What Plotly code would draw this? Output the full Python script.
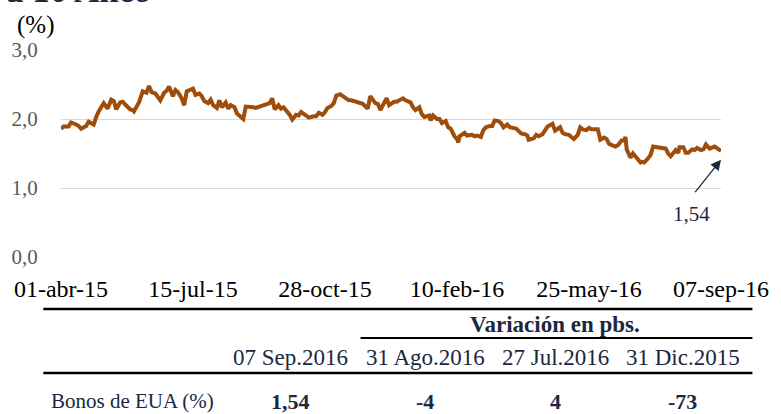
import plotly.graph_objects as go

# Rendimiento del bono del Tesoro de EUA a 10 años (%)
dates = [
    "2015-04-01", "2015-04-03", "2015-04-07", "2015-04-09", "2015-04-13", "2015-04-15", "2015-04-17",
    "2015-04-21", "2015-04-23", "2015-04-27", "2015-04-29", "2015-05-01", "2015-05-05", "2015-05-07",
    "2015-05-08", "2015-05-11", "2015-05-13", "2015-05-15", "2015-05-18", "2015-05-20", "2015-05-22",
    "2015-05-26", "2015-05-28", "2015-05-29", "2015-06-02", "2015-06-04", "2015-06-05", "2015-06-08",
    "2015-06-10", "2015-06-12", "2015-06-15", "2015-06-17", "2015-06-19", "2015-06-22", "2015-06-24",
    "2015-06-26", "2015-06-29", "2015-07-01", "2015-07-03", "2015-07-06", "2015-07-08", "2015-07-10",
    "2015-07-13", "2015-07-15", "2015-07-17", "2015-07-20", "2015-07-22", "2015-07-24", "2015-07-27",
    "2015-07-29", "2015-07-31", "2015-08-03", "2015-08-05", "2015-08-07", "2015-08-10", "2015-08-12",
    "2015-08-14", "2015-08-17", "2015-08-19", "2015-08-21", "2015-08-24", "2015-08-26", "2015-08-28",
    "2015-09-01", "2015-09-03", "2015-09-08", "2015-09-11", "2015-09-14", "2015-09-16", "2015-09-18",
    "2015-09-21", "2015-09-23", "2015-09-25", "2015-09-28", "2015-09-30", "2015-10-02", "2015-10-05",
    "2015-10-07", "2015-10-09", "2015-10-13", "2015-10-15", "2015-10-19", "2015-10-21", "2015-10-23",
    "2015-10-26", "2015-10-28", "2015-10-30", "2015-11-02", "2015-11-04", "2015-11-06", "2015-11-09",
    "2015-11-12", "2015-11-16", "2015-11-18", "2015-11-20", "2015-11-24", "2015-11-27", "2015-12-01",
    "2015-12-03", "2015-12-07", "2015-12-09", "2015-12-11", "2015-12-14", "2015-12-16", "2015-12-18",
    "2015-12-22", "2015-12-24", "2015-12-29", "2015-12-31",
    "2016-01-04", "2016-01-06", "2016-01-08", "2016-01-11", "2016-01-13", "2016-01-15", "2016-01-19",
    "2016-01-20", "2016-01-22", "2016-01-25", "2016-01-27", "2016-01-29", "2016-02-01", "2016-02-03",
    "2016-02-05", "2016-02-08", "2016-02-10", "2016-02-11", "2016-02-12", "2016-02-16", "2016-02-18",
    "2016-02-22", "2016-02-24", "2016-02-26", "2016-02-29", "2016-03-02", "2016-03-04", "2016-03-07",
    "2016-03-09", "2016-03-11", "2016-03-14", "2016-03-16", "2016-03-18", "2016-03-21", "2016-03-23",
    "2016-03-28", "2016-03-30", "2016-04-01", "2016-04-04", "2016-04-06", "2016-04-07", "2016-04-11",
    "2016-04-13", "2016-04-15", "2016-04-18", "2016-04-20", "2016-04-22", "2016-04-26", "2016-04-28",
    "2016-05-02", "2016-05-04", "2016-05-06", "2016-05-09", "2016-05-11", "2016-05-13", "2016-05-16",
    "2016-05-18", "2016-05-20", "2016-05-23", "2016-05-25", "2016-05-27", "2016-06-01", "2016-06-03",
    "2016-06-06", "2016-06-08", "2016-06-10", "2016-06-13", "2016-06-15", "2016-06-17", "2016-06-20",
    "2016-06-22", "2016-06-23", "2016-06-24", "2016-06-27", "2016-06-29", "2016-07-01", "2016-07-05",
    "2016-07-06", "2016-07-08", "2016-07-11", "2016-07-13", "2016-07-15", "2016-07-18", "2016-07-20",
    "2016-07-22", "2016-07-25", "2016-07-27", "2016-07-29", "2016-08-02", "2016-08-04", "2016-08-05",
    "2016-08-08", "2016-08-10", "2016-08-12", "2016-08-15", "2016-08-17", "2016-08-19", "2016-08-22",
    "2016-08-24", "2016-08-26", "2016-08-29", "2016-08-31", "2016-09-02", "2016-09-06", "2016-09-07",
]
yields = [
    1.86, 1.89, 1.89, 1.95, 1.92, 1.90, 1.86,
    1.90, 1.96, 1.92, 2.03, 2.11, 2.23, 2.18,
    2.15, 2.28, 2.26, 2.14, 2.24, 2.25, 2.21,
    2.14, 2.13, 2.11, 2.24, 2.36, 2.40, 2.38,
    2.48, 2.39, 2.37, 2.32, 2.27, 2.38, 2.41,
    2.47, 2.33, 2.42, 2.39, 2.30, 2.20, 2.40,
    2.43, 2.44, 2.35, 2.37, 2.33, 2.26, 2.23,
    2.28, 2.20, 2.16, 2.27, 2.17, 2.24, 2.15,
    2.20, 2.17, 2.08, 2.05, 2.00, 2.18, 2.18,
    2.17, 2.16, 2.19, 2.20, 2.23, 2.30, 2.14,
    2.20, 2.15, 2.17, 2.10, 2.06, 1.99, 2.06,
    2.05, 2.10, 2.05, 2.02, 2.04, 2.04, 2.09,
    2.06, 2.10, 2.16, 2.19, 2.23, 2.34, 2.36,
    2.32, 2.27, 2.27, 2.26, 2.25, 2.22, 2.15,
    2.33, 2.23, 2.22, 2.13, 2.23, 2.30, 2.20,
    2.25, 2.25, 2.30, 2.27,
    2.24, 2.17, 2.13, 2.17, 2.07, 2.03, 2.05,
    1.98, 2.05, 2.00, 2.00, 1.94, 1.97, 1.88,
    1.86, 1.75, 1.71, 1.66, 1.75, 1.80, 1.76,
    1.77, 1.75, 1.76, 1.74, 1.84, 1.88, 1.90,
    1.90, 1.98, 1.97, 1.94, 1.88, 1.92, 1.88,
    1.86, 1.83, 1.79, 1.78, 1.76, 1.70, 1.72,
    1.77, 1.75, 1.78, 1.85, 1.89, 1.93, 1.83,
    1.88, 1.80, 1.78, 1.77, 1.74, 1.71, 1.77,
    1.88, 1.85, 1.84, 1.87, 1.85, 1.85, 1.70,
    1.73, 1.71, 1.64, 1.62, 1.60, 1.62, 1.69,
    1.69, 1.74, 1.56, 1.44, 1.50, 1.46, 1.37,
    1.38, 1.37, 1.43, 1.48, 1.60, 1.59, 1.58,
    1.57, 1.57, 1.50, 1.46, 1.55, 1.51, 1.59,
    1.59, 1.51, 1.51, 1.56, 1.55, 1.58, 1.55,
    1.56, 1.63, 1.57, 1.58, 1.60, 1.55, 1.54,
]

x_ticks = ["2015-04-01", "2015-07-15", "2015-10-28", "2016-02-10", "2016-05-25", "2016-09-07"]
x_tick_labels = ["01-abr-15", "15-jul-15", "28-oct-15", "10-feb-16", "25-may-16", "07-sep-16"]
y_ticks = [0, 1, 2, 3]
y_tick_labels = ["0,0", "1,0", "2,0", "3,0"]

# tabla inferior
col_headers = ["07 Sep.2016", "31 Ago.2016", "27 Jul.2016", "31 Dic.2015"]
row_label = "Bonos de EUA (%)"
row_values = ["1,54", "-4", "4", "-73"]
last_label = "1,54"

FONT = "Liberation Serif"
NAVY = "#1c2740"
LINE_COLOR = "#9e4d0b"

# plot area in pixels, used to place the paper-coord items
W, H = 781, 414
L, R, T, B = 58, 51, 50, 157
pw, ph = W - L - R, H - T - B


def px(xp):
    return (xp - L) / pw


def py(yp):
    return (H - B - yp) / ph


def text_at(x, y, text, size, color=NAVY, xanchor="center", yanchor="middle"):
    fig.add_annotation(
        x=px(x), y=py(y), xref="paper", yref="paper", text=text,
        xanchor=xanchor, yanchor=yanchor, showarrow=False,
        font=dict(family=FONT, size=size, color=color),
    )


fig = go.Figure()
fig.add_trace(go.Scatter(
    x=dates, y=yields, mode="lines",
    line=dict(color=LINE_COLOR, width=4),
    showlegend=False, hoverinfo="skip",
))

# arrow pointing at the last value
fig.add_annotation(
    x=dates[-1], y=yields[-1] - 0.13, xref="x", yref="y",
    ax=-27, ay=34, text="", showarrow=True,
    arrowhead=2, arrowsize=1.6, arrowwidth=1.3, arrowcolor=NAVY,
)
text_at(700, 214, last_label, 21)

# title (cut off at the top) and unit label
text_at(0, 12, "<b>a 10 Años</b>", 35, xanchor="left", yanchor="bottom")
text_at(11, 25, "(%)", 25, color="black", xanchor="left")

# table
col_x = [292, 429, 561, 691]
text_at(561, 324, "<b>Variación en pbs.</b>", 23)
for cx, h, v in zip(col_x, col_headers, row_values):
    text_at(cx, 357, h, 23)
    text_at(cx, 401, f"<b>{v}</b>", 22)
text_at(46, 401, row_label, 21, xanchor="left")

for x0, x1, yl, w in [(40, 762, 309, 2.5), (363, 762, 338, 2), (40, 762, 373, 2.5)]:
    fig.add_shape(
        type="line", xref="paper", yref="paper",
        x0=px(x0), x1=px(x1), y0=py(yl), y1=py(yl),
        line=dict(color="black", width=w),
    )

fig.update_layout(
    width=W, height=H,
    margin=dict(l=L, r=R, t=T, b=B),
    plot_bgcolor="white", paper_bgcolor="white",
    showlegend=False,
    xaxis=dict(
        range=[dates[0], dates[-1]],
        tickvals=x_ticks, ticktext=x_tick_labels,
        showgrid=False, zeroline=False, showline=False,
        ticks="outside", ticklen=10, tickcolor="rgba(0,0,0,0)",
        tickfont=dict(family=FONT, size=24, color="black"),
    ),
    yaxis=dict(
        range=[0, 3],
        tickvals=y_ticks, ticktext=y_tick_labels,
        showgrid=True, gridcolor="#d9d9d9", gridwidth=1,
        zeroline=False, showline=False,
        ticks="outside", ticklen=18, tickcolor="rgba(0,0,0,0)",
        tickfont=dict(family=FONT, size=21, color="#595959"),
    ),
)

fig.write_html(
    "out.html",
    config={"displayModeBar": False},
    post_script="document.body.style.margin='0px';",
)
